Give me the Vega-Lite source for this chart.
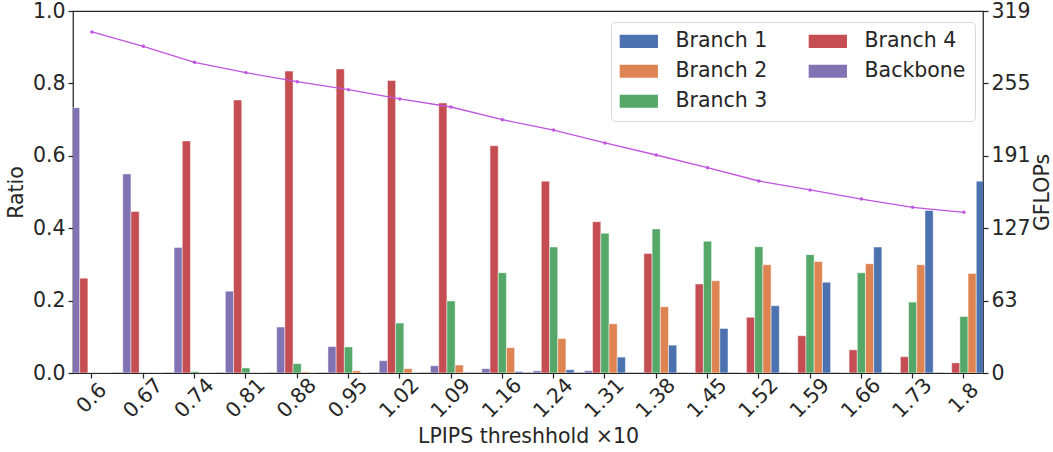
{
  "$schema": "https://vega.github.io/schema/vega-lite/v6.json",
  "width": 910,
  "height": 362,
  "autosize": {"type": "none"},
  "padding": {"left": 73, "top": 11, "right": 70, "bottom": 79},
  "config": {
    "font": "DejaVu Sans",
    "view": {"stroke": "#262626", "strokeWidth": 1.25},
    "axis": {"labelFont": "DejaVu Sans", "titleFont": "DejaVu Sans", "labelFontSize": 20.5, "titleFontSize": 20.5, "labelColor": "#262626", "titleColor": "#262626", "titleFontWeight": "normal", "tickColor": "#262626", "domainColor": "#262626", "tickSize": 5, "tickWidth": 1.25, "grid": false, "labelPadding": 3}
  },
  "datasets": {
    "bars": [
      {"t": "0.6", "series": "Backbone", "ratio": 0.733}, {"t": "0.6", "series": "Branch 4", "ratio": 0.262}, {"t": "0.6", "series": "Branch 3", "ratio": 0}, {"t": "0.6", "series": "Branch 2", "ratio": 0}, {"t": "0.6", "series": "Branch 1", "ratio": 0},
      {"t": "0.67", "series": "Backbone", "ratio": 0.550}, {"t": "0.67", "series": "Branch 4", "ratio": 0.446}, {"t": "0.67", "series": "Branch 3", "ratio": 0}, {"t": "0.67", "series": "Branch 2", "ratio": 0}, {"t": "0.67", "series": "Branch 1", "ratio": 0},
      {"t": "0.74", "series": "Backbone", "ratio": 0.347}, {"t": "0.74", "series": "Branch 4", "ratio": 0.641}, {"t": "0.74", "series": "Branch 3", "ratio": 0.004}, {"t": "0.74", "series": "Branch 2", "ratio": 0}, {"t": "0.74", "series": "Branch 1", "ratio": 0},
      {"t": "0.81", "series": "Backbone", "ratio": 0.226}, {"t": "0.81", "series": "Branch 4", "ratio": 0.754}, {"t": "0.81", "series": "Branch 3", "ratio": 0.014}, {"t": "0.81", "series": "Branch 2", "ratio": 0.001}, {"t": "0.81", "series": "Branch 1", "ratio": 0},
      {"t": "0.88", "series": "Backbone", "ratio": 0.127}, {"t": "0.88", "series": "Branch 4", "ratio": 0.834}, {"t": "0.88", "series": "Branch 3", "ratio": 0.026}, {"t": "0.88", "series": "Branch 2", "ratio": 0.003}, {"t": "0.88", "series": "Branch 1", "ratio": 0},
      {"t": "0.95", "series": "Backbone", "ratio": 0.073}, {"t": "0.95", "series": "Branch 4", "ratio": 0.840}, {"t": "0.95", "series": "Branch 3", "ratio": 0.072}, {"t": "0.95", "series": "Branch 2", "ratio": 0.006}, {"t": "0.95", "series": "Branch 1", "ratio": 0},
      {"t": "1.02", "series": "Backbone", "ratio": 0.034}, {"t": "1.02", "series": "Branch 4", "ratio": 0.808}, {"t": "1.02", "series": "Branch 3", "ratio": 0.138}, {"t": "1.02", "series": "Branch 2", "ratio": 0.012}, {"t": "1.02", "series": "Branch 1", "ratio": 0.001},
      {"t": "1.09", "series": "Backbone", "ratio": 0.020}, {"t": "1.09", "series": "Branch 4", "ratio": 0.746}, {"t": "1.09", "series": "Branch 3", "ratio": 0.199}, {"t": "1.09", "series": "Branch 2", "ratio": 0.022}, {"t": "1.09", "series": "Branch 1", "ratio": 0.002},
      {"t": "1.16", "series": "Backbone", "ratio": 0.012}, {"t": "1.16", "series": "Branch 4", "ratio": 0.628}, {"t": "1.16", "series": "Branch 3", "ratio": 0.277}, {"t": "1.16", "series": "Branch 2", "ratio": 0.070}, {"t": "1.16", "series": "Branch 1", "ratio": 0.004},
      {"t": "1.24", "series": "Backbone", "ratio": 0.006}, {"t": "1.24", "series": "Branch 4", "ratio": 0.530}, {"t": "1.24", "series": "Branch 3", "ratio": 0.348}, {"t": "1.24", "series": "Branch 2", "ratio": 0.095}, {"t": "1.24", "series": "Branch 1", "ratio": 0.009},
      {"t": "1.31", "series": "Backbone", "ratio": 0.006}, {"t": "1.31", "series": "Branch 4", "ratio": 0.418}, {"t": "1.31", "series": "Branch 3", "ratio": 0.386}, {"t": "1.31", "series": "Branch 2", "ratio": 0.136}, {"t": "1.31", "series": "Branch 1", "ratio": 0.044},
      {"t": "1.38", "series": "Backbone", "ratio": 0.002}, {"t": "1.38", "series": "Branch 4", "ratio": 0.330}, {"t": "1.38", "series": "Branch 3", "ratio": 0.398}, {"t": "1.38", "series": "Branch 2", "ratio": 0.183}, {"t": "1.38", "series": "Branch 1", "ratio": 0.077},
      {"t": "1.45", "series": "Backbone", "ratio": 0.001}, {"t": "1.45", "series": "Branch 4", "ratio": 0.246}, {"t": "1.45", "series": "Branch 3", "ratio": 0.364}, {"t": "1.45", "series": "Branch 2", "ratio": 0.255}, {"t": "1.45", "series": "Branch 1", "ratio": 0.123},
      {"t": "1.52", "series": "Backbone", "ratio": 0}, {"t": "1.52", "series": "Branch 4", "ratio": 0.154}, {"t": "1.52", "series": "Branch 3", "ratio": 0.349}, {"t": "1.52", "series": "Branch 2", "ratio": 0.299}, {"t": "1.52", "series": "Branch 1", "ratio": 0.186},
      {"t": "1.59", "series": "Backbone", "ratio": 0}, {"t": "1.59", "series": "Branch 4", "ratio": 0.103}, {"t": "1.59", "series": "Branch 3", "ratio": 0.327}, {"t": "1.59", "series": "Branch 2", "ratio": 0.308}, {"t": "1.59", "series": "Branch 1", "ratio": 0.251},
      {"t": "1.66", "series": "Backbone", "ratio": 0}, {"t": "1.66", "series": "Branch 4", "ratio": 0.064}, {"t": "1.66", "series": "Branch 3", "ratio": 0.277}, {"t": "1.66", "series": "Branch 2", "ratio": 0.302}, {"t": "1.66", "series": "Branch 1", "ratio": 0.348},
      {"t": "1.73", "series": "Backbone", "ratio": 0}, {"t": "1.73", "series": "Branch 4", "ratio": 0.045}, {"t": "1.73", "series": "Branch 3", "ratio": 0.196}, {"t": "1.73", "series": "Branch 2", "ratio": 0.299}, {"t": "1.73", "series": "Branch 1", "ratio": 0.449},
      {"t": "1.8", "series": "Backbone", "ratio": 0}, {"t": "1.8", "series": "Branch 4", "ratio": 0.028}, {"t": "1.8", "series": "Branch 3", "ratio": 0.156}, {"t": "1.8", "series": "Branch 2", "ratio": 0.275}, {"t": "1.8", "series": "Branch 1", "ratio": 0.530}
    ],
    "flops": [
      {"t": "0.6", "gflops": 300.5}, {"t": "0.67", "gflops": 287.9}, {"t": "0.74", "gflops": 273.8}, {"t": "0.81", "gflops": 264.7},
      {"t": "0.88", "gflops": 256.7}, {"t": "0.95", "gflops": 249.7}, {"t": "1.02", "gflops": 241.5}, {"t": "1.09", "gflops": 234.4},
      {"t": "1.16", "gflops": 223.2}, {"t": "1.24", "gflops": 214.1}, {"t": "1.31", "gflops": 202.7}, {"t": "1.38", "gflops": 192.1},
      {"t": "1.45", "gflops": 180.9}, {"t": "1.52", "gflops": 169.2}, {"t": "1.59", "gflops": 161.3}, {"t": "1.66", "gflops": 153.3},
      {"t": "1.73", "gflops": 146.0}, {"t": "1.8", "gflops": 141.6}
    ]
  },
  "encoding": {
    "x": {
      "field": "t", "type": "nominal",
      "scale": {"domain": ["0.6","0.67","0.74","0.81","0.88","0.95","1.02","1.09","1.16","1.24","1.31","1.38","1.45","1.52","1.59","1.66","1.73","1.8"], "range": [-6.65, 916.6], "paddingInner": 0, "paddingOuter": 0},
      "axis": {"title": "LPIPS threshhold \u00d710", "labelAngle": -45, "labelAlign": "center", "labelBaseline": "middle", "labelPadding": 20, "domain": false, "bandPosition": 0.5, "titlePadding": 5}
    }
  },
  "layer": [
    {
      "data": {"name": "bars"},
      "mark": {"type": "bar", "clip": true, "stroke": "white", "strokeWidth": 0.8, "strokeOpacity": 0.6},
      "encoding": {
        "xOffset": {"field": "series", "type": "nominal", "sort": ["Backbone", "Branch 4", "Branch 3", "Branch 2", "Branch 1"], "scale": {"paddingInner": 0, "paddingOuter": 0.625}},
        "y": {"field": "ratio", "type": "quantitative", "scale": {"domain": [0, 1], "nice": false}, "axis": {"title": "Ratio", "values": [0, 0.2, 0.4, 0.6, 0.8, 1.0], "format": ".1f", "domain": false, "titlePadding": 6}},
        "color": {
          "field": "series", "type": "nominal",
          "scale": {"domain": ["Branch 1", "Branch 2", "Branch 3", "Branch 4", "Backbone"], "range": ["#4C72B0", "#DD8452", "#55A868", "#C44E52", "#8172B3"]},
          "legend": {
            "title": null, "orient": "none", "legendX": 538, "legendY": 11, "columns": 2, "columnPadding": 40,
            "symbolType": "M-1.6,-1H4.2V1H-1.6Z", "symbolSize": 174, "symbolStrokeWidth": 0, "symbolOpacity": 1,
            "labelFontSize": 20.5, "labelFont": "DejaVu Sans", "labelColor": "#262626", "labelOffset": 35, "rowPadding": 9,
            "fillColor": "white", "strokeColor": "#d8d8d8", "cornerRadius": 4, "padding": 9
          }
        }
      }
    },
    {
      "data": {"name": "flops"},
      "mark": {"type": "line", "color": "#BF55DF", "strokeWidth": 1.3, "point": {"filled": true, "size": 12, "color": "#BF55DF"}},
      "encoding": {
        "y": {"field": "gflops", "type": "quantitative", "scale": {"domain": [0, 319], "nice": false}, "axis": {"orient": "right", "title": "GFLOPs", "titleAngle": 270, "titleBaseline": "top", "values": [0, 63.8, 127.6, 191.4, 255.2, 319], "labelExpr": "floor(datum.value)", "domain": false, "titlePadding": 2}}
      }
    }
  ],
  "resolve": {"scale": {"y": "independent"}}
}
